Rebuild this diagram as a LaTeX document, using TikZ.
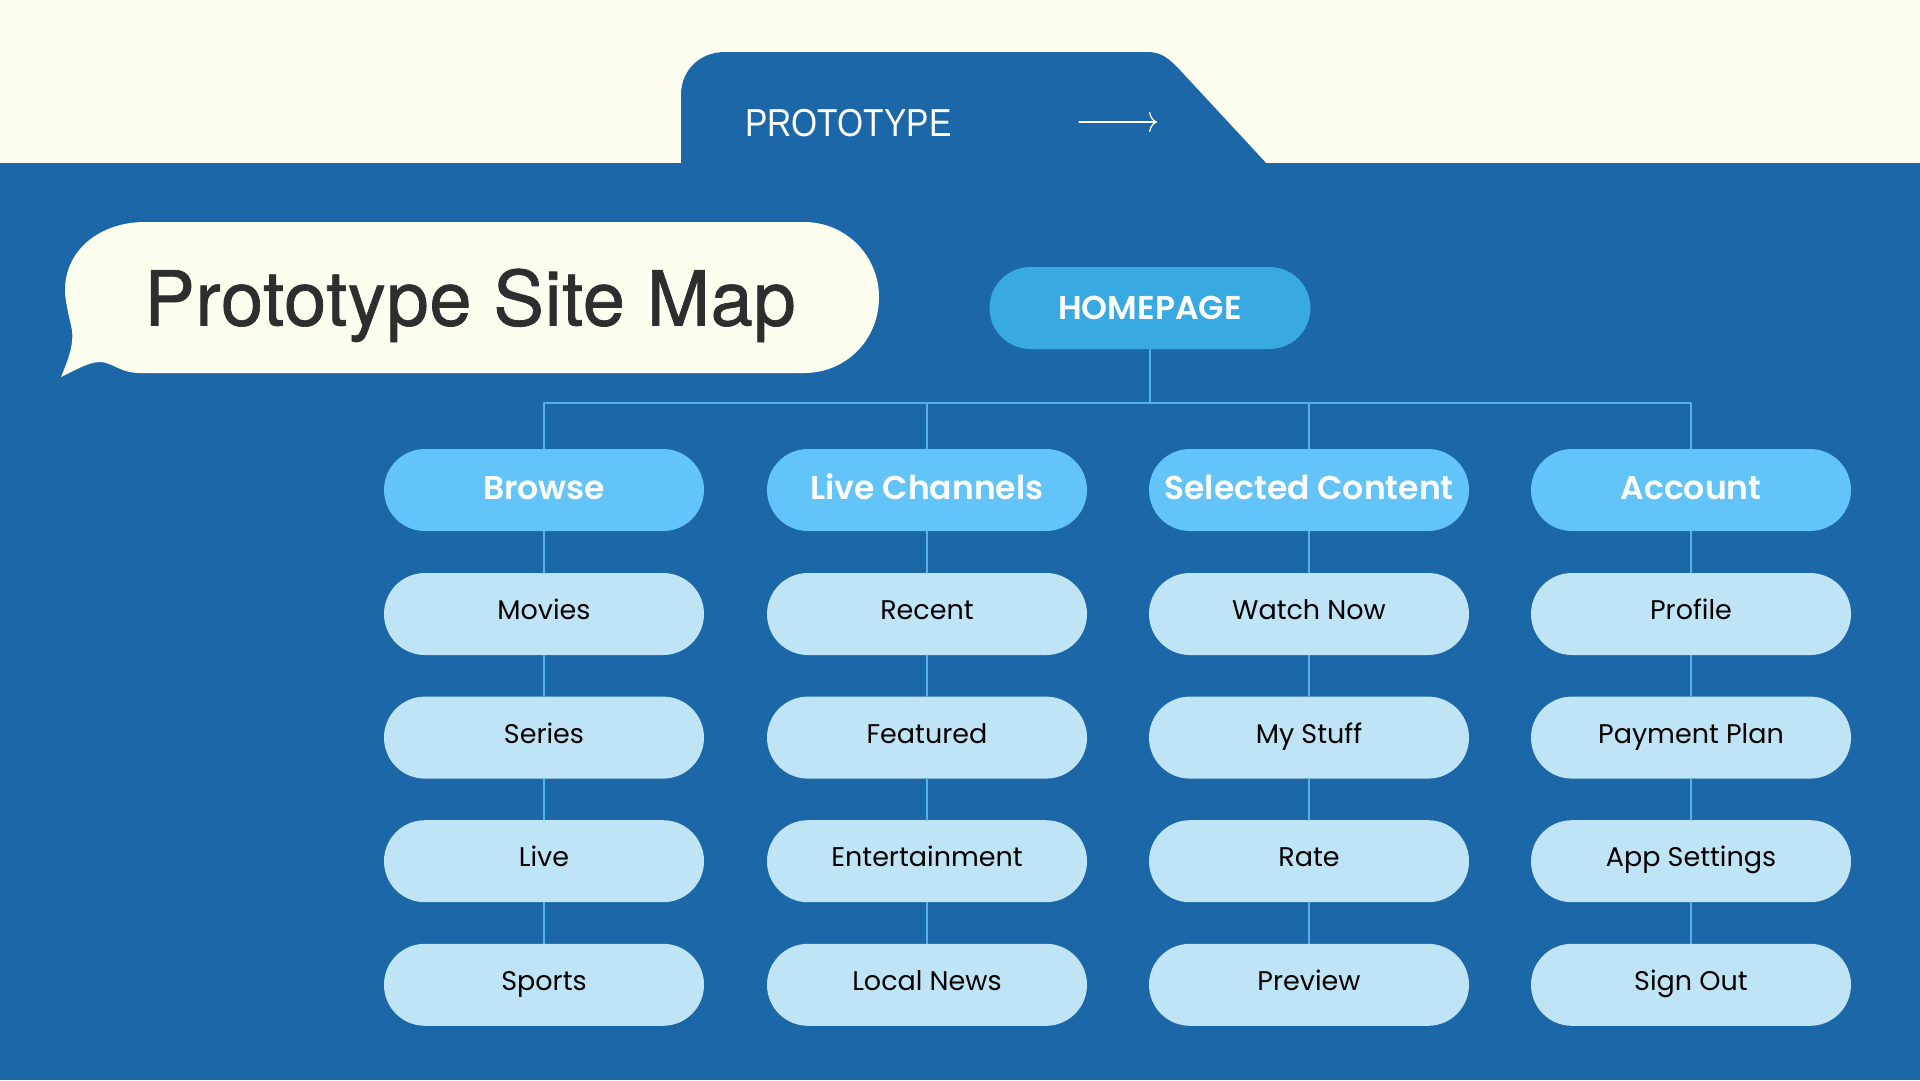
\documentclass[tikz,border=0pt]{standalone}
\usepackage{fontspec}
\setmainfont{Poppins}[BoldFont={Poppins SemiBold}]
\newfontfamily\titlefont[FakeBold=0.9]{TeX Gyre Heros}
\newfontfamily\tabfont[FakeStretch=0.86]{Liberation Sans}
\usetikzlibrary{arrows.meta}
\definecolor{crema}{HTML}{FEFEF0}
\definecolor{azul}{HTML}{1B67A8}
\definecolor{raiz}{HTML}{39A9E1}
\definecolor{celeste}{HTML}{63C4F9}
\definecolor{palido}{HTML}{BFE4F6}
\definecolor{hilo}{HTML}{55B0EC}
\definecolor{tinta}{HTML}{2E2E2E}

\begin{document}
\begin{tikzpicture}[x=1pt, y=-1pt, line cap=round, line join=round,
  pill/.style={rectangle, rounded corners=40.9pt, minimum width=320pt,
    minimum height=82pt, inner sep=0pt, text height=23pt, text depth=4pt},
  home/.style={pill, fill=raiz, text=white, font=\fontsize{33}{36}\selectfont\bfseries,
    minimum width=321pt, text depth=0pt},
  cat/.style={pill, fill=celeste, text=white, font=\fontsize{33}{36}\selectfont\bfseries},
  sub/.style={pill, fill=palido, text=black, font=\fontsize{27}{32}\selectfont,
    text height=19pt, text depth=8pt},
  linea/.style={draw=hilo, line width=1.5pt}]
  \useasboundingbox (0,0) rectangle (1920,1080);
  % fondo
  \fill[crema] (0,0) rectangle (1920,163);
  \fill[azul] (0,163) rectangle (1920,1080);
  % la pestaña
  \fill[azul] (681,164) -- (681,95) .. controls (681,70) and (700,52) .. (725,52)
    -- (1148,52) .. controls (1162,52) and (1170,60) .. (1178,68) -- (1267,164) -- cycle;
  \node[anchor=west, inner sep=0pt, text height=28pt, text depth=0pt, text=white,
    font=\tabfont\fontsize{39}{42}\selectfont] (pestana) at (745,122) {PROTOTYPE};
  \coordinate (flechaA) at (1079,122);
  \coordinate (flechaB) at (1157,122);
  \draw[white, line width=1.3pt, -{To[length=8pt, width=20pt]}] (flechaA) -- (flechaB);
  % el bocadillo del título
  \fill[crema] (145,222) -- (804,222) .. controls (846,222) and (879,256) .. (879,297)
    .. controls (879,340) and (846,373) .. (804,373) -- (140,373)
    .. controls (120,373) and (112,362) .. (100,362)
    .. controls (88,362) and (74,371) .. (61,377)
    .. controls (68,360) and (74,345) .. (72,330)
    .. controls (68,312) and (65,300) .. (65,290)
    .. controls (65,250) and (100,222) .. (145,222) -- cycle;
  \node[inner sep=0pt, text height=55pt, text depth=0pt, text=tinta,
    font=\titlefont\fontsize{76}{80}\selectfont] (titulo) at (470,298)
    {\addfontfeature{LetterSpace=0.8}Prototype Site Map};
  % la raíz y sus cuatro ramas
  \node[home] (home) at (1150,308) {HOMEPAGE};
  \coordinate (bus) at (1150,403);
  \foreach \x/\cat/\a/\b/\c/\d [count=\i] in {
      544/Browse/Movies/Series/Live/Sports,
      927/Live Channels/Recent/Featured/Entertainment/Local News,
      1309/Selected Content/Watch Now/My Stuff/Rate/Preview,
      1691/Account/Profile/Payment Plan/App Settings/Sign Out} {
    \node[cat] (c\i) at (\x,490) {\cat};
    \foreach \s [count=\j] in {\a,\b,\c,\d}
      \node[sub] (c\i-\j) at (\x,{614+123.6*(\j-1)}) {\s};
  }
  % los hilos
  \draw[linea] (home.south) -- (bus);
  \draw[linea] (c1 |- bus) -- (c4 |- bus);
  \foreach \i in {1,...,4} {
    \draw[linea] (c\i |- bus) -- (c\i.north);
    \draw[linea] (c\i.south) -- (c\i-1.north);
    \foreach \j [count=\k from 2] in {1,2,3}
      \draw[linea] (c\i-\j.south) -- (c\i-\k.north);
  }
\end{tikzpicture}
\end{document}
